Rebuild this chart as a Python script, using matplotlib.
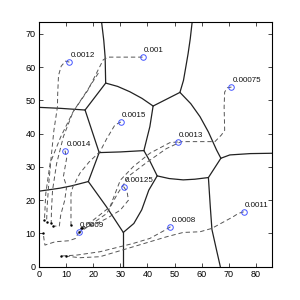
import matplotlib
matplotlib.use("Agg")
import matplotlib.pyplot as plt

plt.rcParams['font.family'] = ['Liberation Sans', 'DejaVu Sans']

# Labelled start points
point_labels = ["0.0012", "0.001", "0.00075", "0.0015", "0.0013",
                "0.0014", "0.00125", "0.0009", "0.0008", "0.0011"]
point_x = [11.2, 38.2, 71.0, 30.2, 51.2, 9.6, 31.2, 14.7, 48.5, 75.5]
point_y = [61.5, 63.0, 54.0, 43.5, 37.5, 34.9, 24.1, 10.5, 12.0, 16.5]

# Dashed trajectories
traj_0012_x = [11.2, 9.8, 8.2, 7.2, 6.9, 6.8, 5.5, 4.5, 3.6, 3.0, 2.8]
traj_0012_y = [61.5, 61.8, 60.3, 57.5, 52.0, 48.0, 41.0, 33.0, 25.0, 18.0, 13.5]
traj_001_x = [38.2, 25.5, 23.7, 18.0, 12.6, 9.0, 6.5, 5.0, 4.6, 4.5]
traj_001_y = [63.0, 63.0, 62.2, 53.0, 46.6, 39.1, 31.0, 23.0, 17.0, 13.0]
traj_001b_x = [21.9, 17.0, 12.6, 8.0, 4.1, 2.5, 2.0]
traj_001b_y = [58.2, 52.0, 46.6, 39.0, 31.1, 22.0, 14.0]
traj_00075_x = [71.0, 69.5, 68.5, 68.3, 68.5, 67.3, 64.9, 52.5, 47.0, 40.0, 33.5, 29.0, 25.0, 18.0, 14.8]
traj_00075_y = [54.0, 53.8, 52.5, 48.0, 41.0, 39.6, 37.6, 37.6, 35.5, 31.5, 27.5, 22.0, 16.0, 12.0, 10.3]
traj_0015_x = [30.2, 28.0, 25.0, 22.5, 18.5, 15.1, 12.5, 11.8, 11.8]
traj_0015_y = [43.5, 42.6, 38.5, 34.6, 31.5, 28.1, 24.0, 22.0, 12.5]
traj_0013_x = [51.2, 48.3, 40.9, 34.8, 30.0, 26.2, 20.0, 15.5]
traj_0013_y = [37.5, 37.3, 34.1, 30.1, 26.0, 18.0, 14.0, 11.5]
traj_0014_x = [9.6, 10.2, 9.0, 10.2, 9.5, 8.0, 7.5, 5.3]
traj_0014_y = [34.9, 32.6, 27.1, 24.1, 20.0, 15.5, 12.2, 12.2]
traj_00125_x = [31.2, 32.5, 33.0, 30.0, 25.0, 20.0, 16.0]
traj_00125_y = [24.1, 22.5, 20.0, 17.0, 14.5, 12.5, 11.5]
traj_0009_x = [14.7, 13.5, 11.0, 6.0, 2.2, 1.8, 1.6]
traj_0009_y = [10.5, 8.5, 7.8, 7.5, 6.5, 8.5, 10.0]
traj_0008_x = [48.5, 46.5, 40.9, 34.8, 22.5, 14.0, 8.0]
traj_0008_y = [12.0, 11.0, 8.5, 7.0, 4.5, 3.5, 3.2]
traj_0011_x = [75.5, 73.5, 71.6, 63.7, 59.4, 53.2, 47.1, 34.8, 22.5, 15.0, 10.0]
traj_0011_y = [16.5, 16.0, 15.0, 11.5, 10.5, 10.3, 9.0, 6.0, 3.0, 2.7, 3.2]

trajectories = [
    (traj_0012_x, traj_0012_y), (traj_001_x, traj_001_y), (traj_001b_x, traj_001b_y),
    (traj_00075_x, traj_00075_y), (traj_0015_x, traj_0015_y), (traj_0013_x, traj_0013_y),
    (traj_0014_x, traj_0014_y), (traj_00125_x, traj_00125_y), (traj_0009_x, traj_0009_y),
    (traj_0008_x, traj_0008_y), (traj_0011_x, traj_0011_y),
]

# Cell boundary edges (solid)
edge_1 = ([24.6, 24.4, 23.9, 23.1], [55.2, 63.0, 68.0, 73.5])
edge_2 = ([24.6, 17.0], [55.2, 47.1])
edge_3 = ([17.0, 8.0, 0.0], [47.1, 47.6, 47.9])
edge_4 = ([17.0, 22.2], [47.1, 34.3])
edge_5 = ([22.2, 18.2], [34.3, 25.6])
edge_6 = ([18.2, 12.0, 7.7, 0.0], [25.6, 24.3, 23.6, 22.7])
edge_7 = ([18.2, 24.9, 31.1], [25.6, 18.0, 10.3])
edge_8 = ([31.1, 31.1], [10.3, 0.0])
edge_9 = ([22.2, 30.0, 38.7], [34.3, 34.5, 34.9])
edge_10 = ([38.7, 40.9, 42.1], [34.9, 42.1, 48.3])
edge_11 = ([24.6, 29.0, 33.5, 38.0, 42.1], [55.2, 54.2, 52.6, 50.6, 48.3])
edge_12 = ([42.1, 52.0], [48.3, 52.4])
edge_13 = ([52.0, 53.3, 54.2, 55.0, 55.8, 56.5], [52.4, 56.0, 60.2, 64.0, 68.5, 73.5])
edge_14 = ([52.0, 56.0, 59.4, 62.5, 65.5, 67.1], [52.4, 49.0, 45.1, 40.5, 35.1, 32.6])
edge_15 = ([67.1, 70.4, 78.0, 86.0], [32.6, 33.6, 34.0, 34.1])
edge_16 = ([67.1, 62.5], [32.6, 26.8])
edge_17 = ([62.5, 63.2, 63.8, 65.5, 66.9], [26.8, 18.0, 11.2, 5.0, 0.0])
edge_18 = ([62.5, 57.5, 53.2, 48.0, 43.6], [26.8, 26.3, 26.1, 26.5, 27.3])
edge_19 = ([38.7, 41.0, 43.6], [34.9, 31.6, 27.3])
edge_20 = ([43.6, 40.5, 37.9, 35.0, 31.1], [27.3, 23.0, 17.1, 13.0, 10.3])
edges = [edge_1, edge_2, edge_3, edge_4, edge_5, edge_6, edge_7, edge_8, edge_9, edge_10,
         edge_11, edge_12, edge_13, edge_14, edge_15, edge_16, edge_17, edge_18, edge_19, edge_20]

x_ticks = [0, 10, 20, 30, 40, 50, 60, 70, 80]
y_ticks = [0, 10, 20, 30, 40, 50, 60, 70]

fig = plt.figure(figsize=(3, 3), dpi=100)
ax = fig.add_axes([0.13, 0.111, 0.777, 0.815])

for ex, ey in edges:
    ax.plot(ex, ey, color='#222222', lw=0.9, solid_capstyle='round', solid_joinstyle='round')

for tx, ty in trajectories:
    ax.plot(tx, ty, color='#555555', lw=0.7, dashes=(4.5, 3))
    ax.plot(tx[-1], ty[-1], marker='.', ms=1.5, color='black')

ax.plot(point_x, point_y, 'o', mfc='none', mec='#4455ff', ms=4.0, mew=0.7)
for lab, px, py in zip(point_labels, point_x, point_y):
    ax.annotate(lab, (px, py), xytext=(1, 3.5), textcoords='offset points',
                fontsize=5.8, color='#111111')

ax.set_xlim(0, 86)
ax.set_ylim(0, 73.5)
ax.set_xticks(x_ticks)
ax.set_yticks(y_ticks)
ax.tick_params(direction='in', length=3, width=0.5, labelsize=6.5,
               top=True, right=True, pad=2.5)
for s in ax.spines.values():
    s.set_linewidth(0.8)

fig.savefig('out.png', dpi=100)
